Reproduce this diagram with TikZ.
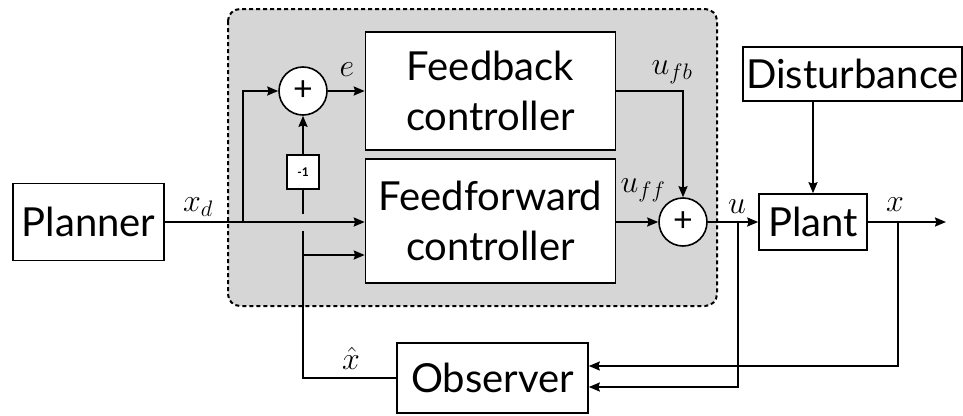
\RequirePackage{fix-cm}
\documentclass[tikz,border=0pt]{standalone}
\usepackage{fontspec}
\setmainfont{Lato}
\usetikzlibrary{arrows.meta,calc}
\definecolor{shade}{RGB}{214,214,214}
\begin{document}
\begin{tikzpicture}[x=1pt,y=-1pt,
  line width=2pt,
  >={Stealth[length=11pt,width=9pt,inset=1.5pt]},
  blk/.style={draw,fill=white,line width=1.6pt,inner sep=0pt,align=center,
    font=\fontsize{40}{50}\selectfont},
  sumnode/.style={draw,circle,fill=white,line width=1.6pt,minimum size=48pt,inner sep=0pt,
    font=\fontsize{34}{34}\selectfont},
  lbl/.style={font=\fontsize{32}{34}\selectfont,inner sep=0pt},
  gainbox/.style={draw,fill=white,line width=1.6pt,minimum width=32pt,minimum height=34pt,inner sep=0pt,
    font=\fontsize{12}{12}\selectfont\bfseries}]
\useasboundingbox (0,0) rectangle (963,415);
% shaded controller region
\draw[fill=shade,dash pattern=on 4pt off 3pt,line width=2pt,rounded corners=12pt]
  (228,9) rectangle (717,306);
% blocks
\node[blk,minimum width=151pt,minimum height=77pt] (plan) at (88.5,222) {Planner};
\node[blk,minimum width=250pt,minimum height=118pt] (fb) at (490.5,91) {Feedback\\controller};
\node[blk,minimum width=250pt,minimum height=124pt] (ff) at (490.5,221) {Feedforward\\controller};
\node[sumnode] (s1) at (303,91) {+};
\node[sumnode] (s2) at (683,222) {+};
\node[gainbox] (g) at (303,172) {-1};
\node[blk,minimum width=108pt,minimum height=56pt] (plant) at (813,222) {Plant};
\node[blk,minimum width=219pt,minimum height=54pt] (dist) at (852.5,74) {Disturbance};
\node[blk,minimum width=191pt,minimum height=70pt] (obs) at (492.5,378) {Observer};
% coordinates
\coordinate (b1) at (243,222);
\coordinate (gapbot) at (303,231);
\coordinate (gaptop) at (303,214);
\coordinate (fbr) at (303,255);
\coordinate (ub) at (738,222);
\coordinate (xb) at (898,222);
\coordinate (out) at (946,222);
% connectors
\draw[->] (plan.east) -- (plan.east -| ff.west);
\draw[->] (b1) |- (s1.west);
\draw[->] (s1.east) -- (s1.east -| fb.west);
\draw[->] (fb.east) -| (s2.north);
\draw[->] (ff.east |- s2.west) -- (s2.west);
\draw[->] (s2.east) -- (plant.west);
\draw[->] (dist.south -| plant.north) -- (plant.north);
\draw[->] (plant.east) -- (out);
\draw[->] (ub) |- ([yshift=-9pt]obs.east);
\draw[->] (xb) |- ([yshift=12pt]obs.east);
\draw (obs.west) -| (gapbot);
\draw (gaptop) -- (g.south);
\draw[->] (g.north) -- (s1.south);
\draw[->] (fbr) -- (fbr -| ff.west);
% labels
\node[lbl] (le) at (347,70) {$e$};
\node[lbl] (lxd) at (198,207) {$x_d$};
\node[lbl] (lufb) at (672,72) {$u_{fb}$};
\node[lbl] (luff) at (643,190) {$u_{ff}$};
\node[lbl] (lu) at (737,207) {$u$};
\node[lbl] (lx) at (895,205) {$x$};
\node[lbl] (lxh) at (351,358) {$\hat{x}$};
\end{tikzpicture}
\end{document}
